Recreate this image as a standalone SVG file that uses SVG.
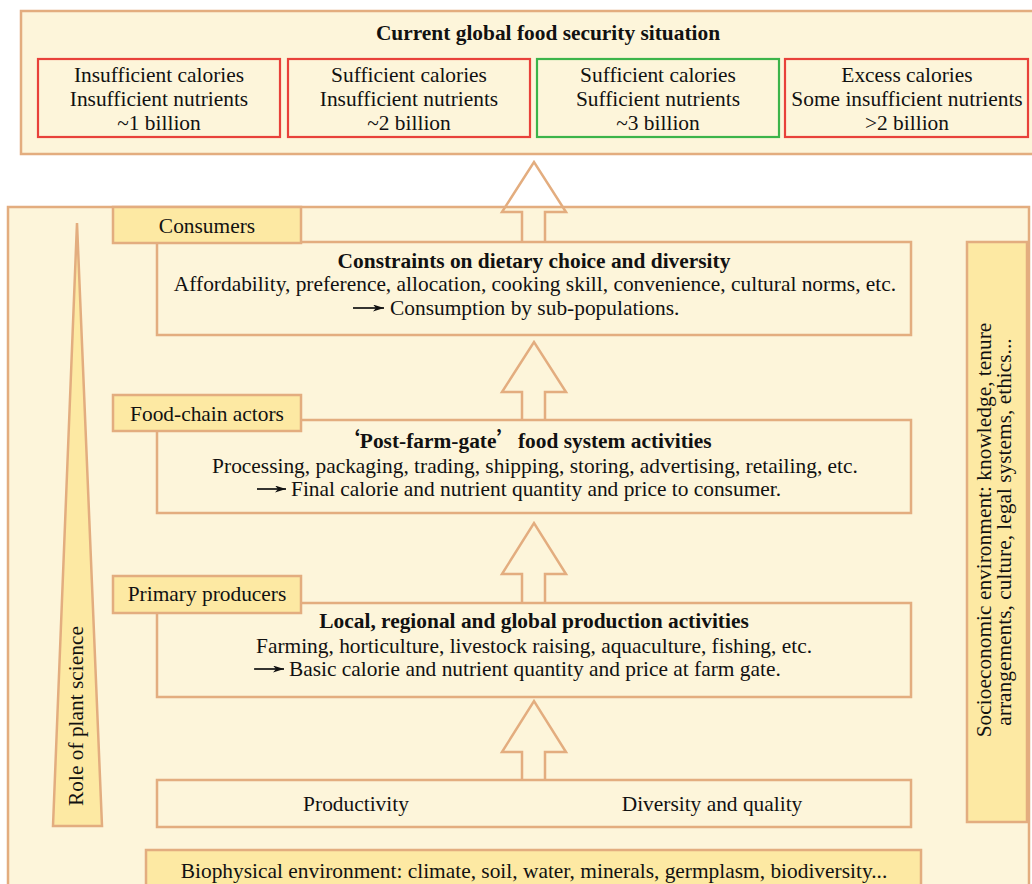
<svg xmlns="http://www.w3.org/2000/svg" width="1032" height="884" viewBox="0 0 1032 884">
<defs>
<style>
text{font-family:"Liberation Serif","Times New Roman",serif;font-size:21.4px;fill:#111}
.b{font-weight:bold}
.c{text-anchor:middle}
.panel{fill:#fdf5da;stroke:#e3ad7f;stroke-width:2.5}
.inner{fill:#fdf5da;stroke:#e3ad7f;stroke-width:2.5}
.lab{fill:#fde9a3;stroke:#e3ad7f;stroke-width:2.5}
.red{fill:none;stroke:#e8413a;stroke-width:2.2}
.grn{fill:none;stroke:#3cb44a;stroke-width:2.2}
.big{fill:none;stroke:#e3ad7f;stroke-width:2.5;stroke-linejoin:miter}
.ar{stroke:#111;stroke-width:1.7}
.q{font-family:"Noto Sans CJK SC",sans-serif;font-weight:bold}
</style>
<marker id="ah" viewBox="0 0 11 7" refX="11" refY="3.5" markerWidth="11" markerHeight="7" markerUnits="userSpaceOnUse" orient="auto">
<path d="M0,0 L11,3.5 L0,7 L3,3.5 Z" fill="#111"/>
</marker>
</defs>

<g id="situation">
<rect class="panel" x="21" y="11" width="1020" height="143"/>
<text class="b c" x="548" y="40">Current global food security situation</text>
<rect class="red" x="38" y="59" width="242" height="78"/>
<text class="c" x="159" y="82">Insufficient calories</text>
<text class="c" x="159" y="106">Insufficient nutrients</text>
<text class="c" x="159" y="130">~1 billion</text>
<rect class="red" x="288" y="59" width="242" height="78"/>
<text class="c" x="409" y="82">Sufficient calories</text>
<text class="c" x="409" y="106">Insufficient nutrients</text>
<text class="c" x="409" y="130">~2 billion</text>
<rect class="grn" x="537" y="59" width="242" height="78"/>
<text class="c" x="658" y="82">Sufficient calories</text>
<text class="c" x="658" y="106">Sufficient nutrients</text>
<text class="c" x="658" y="130">~3 billion</text>
<rect class="red" x="785" y="59" width="243" height="78"/>
<text class="c" x="907" y="82">Excess calories</text>
<text class="c" x="907" y="106">Some insufficient nutrients</text>
<text class="c" x="907" y="130">&gt;2 billion</text>
</g>

<g id="main-panel">
<rect class="panel" x="8" y="207" width="1021" height="700"/>
</g>

<g id="role-of-plant-science">
<polygon class="lab" points="77,223 102,826 53,826"/>
<text transform="rotate(-90 83 716)" class="c" x="83" y="716">Role of plant science</text>
</g>

<g id="socioeconomic">
<rect class="lab" x="967" y="242" width="60" height="580"/>
<text transform="rotate(-90 991 530)" class="c" x="991" y="530">Socioeconomic environment: knowledge, tenure</text>
<text transform="rotate(-90 1011 532)" class="c" x="1011" y="532">arrangements, culture, legal systems, ethics...</text>
</g>

<g id="connectors">
<polyline class="big" points="522,242 522,212 502,212 534,162 566,212 545,212 545,242"/>
<polyline class="big" points="522,420 522,392 502,392 534,342 566,392 545,392 545,420"/>
<polyline class="big" points="522,603 522,574 502,574 534,523 566,574 545,574 545,603"/>
<polyline class="big" points="522,780 522,752 502,752 534,701 566,752 545,752 545,780"/>
</g>

<g id="consumers">
<rect class="inner" x="157" y="242" width="754" height="93"/>
<rect class="lab" x="113" y="207" width="188" height="36"/>
<text class="c" x="207" y="233">Consumers</text>
<text class="b c" x="534" y="268">Constraints on dietary choice and diversity</text>
<text class="c" x="535" y="291">Affordability, preference, allocation, cooking skill, convenience, cultural norms, etc.</text>
<line class="ar" x1="353" y1="308" x2="384" y2="308" marker-end="url(#ah)"/>
<text x="390" y="315">Consumption by sub-populations.</text>
</g>

<g id="food-chain-actors">
<rect class="inner" x="157" y="420" width="754" height="93"/>
<rect class="lab" x="113" y="395" width="188" height="36"/>
<text class="c" x="207" y="421">Food-chain actors</text>
<text class="b c" x="525" y="448"><tspan class="q">‘</tspan>Post-farm-gate<tspan class="q">’</tspan>food system activities</text>
<text class="c" x="535" y="473">Processing, packaging, trading, shipping, storing, advertising, retailing, etc.</text>
<line class="ar" x1="257" y1="489" x2="286" y2="489" marker-end="url(#ah)"/>
<text x="291" y="496">Final calorie and nutrient quantity and price to consumer.</text>
</g>

<g id="primary-producers">
<rect class="inner" x="157" y="603" width="754" height="94"/>
<rect class="lab" x="113" y="576" width="188" height="37"/>
<text class="c" x="207" y="601">Primary producers</text>
<text class="b c" x="534" y="628">Local, regional and global production activities</text>
<text class="c" x="534" y="653">Farming, horticulture, livestock raising, aquaculture, fishing, etc.</text>
<line class="ar" x1="254" y1="669" x2="284" y2="669" marker-end="url(#ah)"/>
<text x="289" y="676">Basic calorie and nutrient quantity and price at farm gate.</text>
</g>

<g id="plant-science-targets">
<rect class="inner" x="157" y="780" width="754" height="47"/>
<text class="c" x="356" y="811">Productivity</text>
<text class="c" x="712" y="811">Diversity and quality</text>
</g>

<g id="biophysical">
<rect class="lab" x="146" y="850" width="775" height="50"/>
<text class="c" x="534" y="878">Biophysical environment: climate, soil, water, minerals, germplasm, biodiversity...</text>
</g>
</svg>
